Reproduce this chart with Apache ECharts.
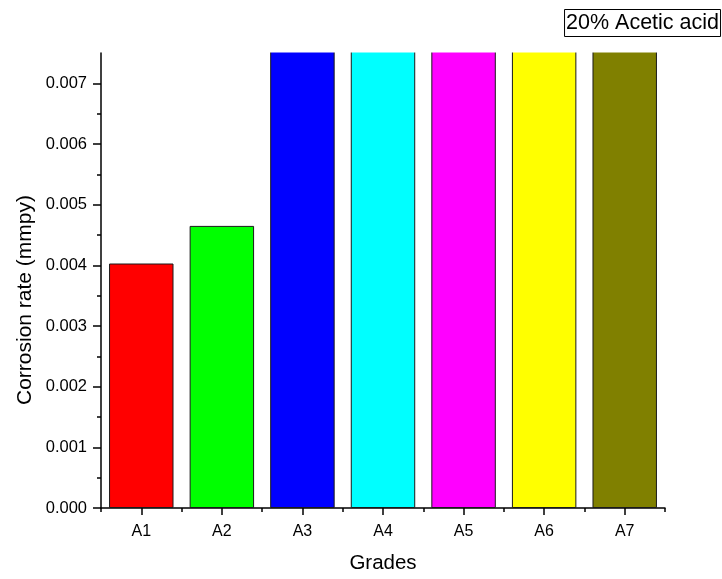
<!DOCTYPE html>
<html>
<head>
<meta charset="utf-8">
<script src="https://cdn.jsdelivr.net/npm/echarts@6/dist/echarts.min.js"></script>
<style>
  html, body { margin: 0; padding: 0; background: #fff; }
  #chart { width: 722px; height: 579px; }
</style>
</head>
<body>
<div id="chart"></div>
<script>
// Corrosion rate per grade in 20% acetic acid
const grades = ['A1', 'A2', 'A3', 'A4', 'A5', 'A6', 'A7'];
const corrosionRate = [0.00403, 0.00465, 0.0112, 0.0121, 0.0105, 0.0098, 0.0117];
const barColors = ['#FF0000', '#00FF00', '#0000FF', '#00FFFF', '#FF00FF', '#FFFF00', '#808000'];
const majorTicks = [0, 0.001, 0.002, 0.003, 0.004, 0.005, 0.006, 0.007];
const minorTicks = [0.0005, 0.0015, 0.0025, 0.0035, 0.0045, 0.0055, 0.0065];
const yMax = 0.0075;

const font = 'Arial, "Liberation Sans", sans-serif';
const axisColor = '#000';
const gridLeft = 101, gridTop = 53, gridRight = 57, gridBottom = 68;

const chart = echarts.init(document.getElementById('chart'), null, { renderer: 'canvas' });

chart.setOption({
  animation: false,
  backgroundColor: '#fff',
  title: {
    text: '20% Acetic acid',
    right: 1,
    top: 9,
    z: 100,
    padding: [2, 2, 2, 2],
    borderColor: '#000',
    borderWidth: 1,
    backgroundColor: '#fff',
    textStyle: { fontFamily: font, fontSize: 21.5, fontWeight: 'normal', color: '#000', lineHeight: 24 }
  },
  graphic: [
    // Bars running past the top of the value range are cut off flat at the frame edge
    {
      type: 'rect',
      z: 50,
      silent: true,
      shape: { x: gridLeft + 1, y: 0, width: 722 - gridLeft, height: gridTop - 0.5 },
      style: { fill: '#fff' }
    },
    // Value-axis title, set slightly below the axis midpoint
    {
      type: 'text',
      z: 60,
      silent: true,
      x: 25,
      y: 300,
      rotation: Math.PI / 2,
      style: {
        text: 'Corrosion rate (mmpy)',
        fontFamily: font,
        fontSize: 21,
        fill: '#000',
        align: 'center',
        verticalAlign: 'middle'
      }
    }
  ],
  grid: { left: gridLeft, top: gridTop, right: gridRight, bottom: gridBottom, containLabel: false },
  xAxis: [
    {
      type: 'category',
      data: grades,
      position: 'bottom',
      name: 'Grades',
      nameLocation: 'middle',
      nameGap: 45,
      nameTextStyle: { fontFamily: font, fontSize: 20.5, color: '#000' },
      axisLine: { show: true, lineStyle: { color: axisColor, width: 1.5 } },
      axisTick: { show: true, alignWithLabel: true, length: 7, lineStyle: { color: axisColor, width: 1.5 } },
      axisLabel: { fontFamily: font, fontSize: 16, color: '#000', margin: 16 },
      splitLine: { show: false }
    },
    {
      type: 'category',
      data: grades,
      position: 'bottom',
      axisLine: { show: false },
      axisTick: { show: true, length: 4, lineStyle: { color: axisColor, width: 1.5 } },
      axisLabel: { show: false },
      splitLine: { show: false }
    }
  ],
  yAxis: [
    {
      type: 'value',
      min: 0,
      max: yMax,
      position: 'left',
      axisLine: { show: true, lineStyle: { color: axisColor, width: 1.5 } },
      axisTick: { show: true, length: 8, customValues: majorTicks, lineStyle: { color: axisColor, width: 1.5 } },
      axisLabel: {
        fontFamily: font, fontSize: 16.5, color: '#000', margin: 14,
        customValues: majorTicks,
        formatter: v => v.toFixed(3)
      },
      splitLine: { show: false }
    },
    {
      type: 'value',
      min: 0,
      max: yMax,
      position: 'left',
      axisLine: { show: false },
      axisTick: { show: true, length: 4, customValues: minorTicks, lineStyle: { color: axisColor, width: 1.5 } },
      axisLabel: { show: false },
      splitLine: { show: false }
    }
  ],
  series: [
    {
      type: 'bar',
      xAxisIndex: 0,
      yAxisIndex: 0,
      barCategoryGap: '20%',
      clip: false,
      data: corrosionRate.map((v, i) => ({
        value: v,
        itemStyle: { color: barColors[i], borderColor: '#1a1a1a', borderWidth: 1 }
      }))
    }
  ]
});
</script>
</body>
</html>
